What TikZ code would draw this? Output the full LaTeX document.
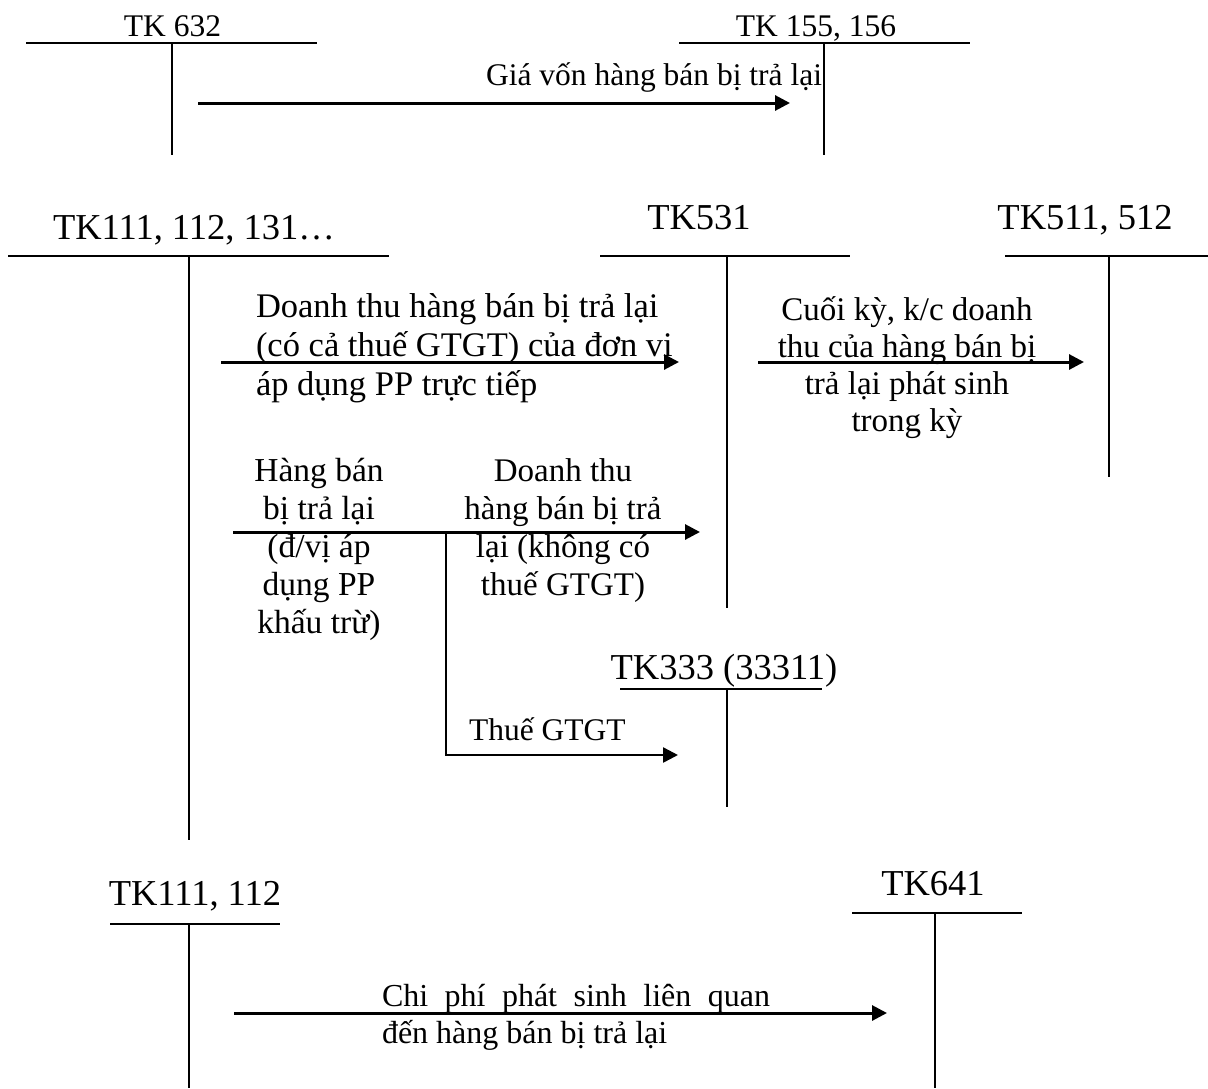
\documentclass[tikz,border=0pt]{standalone}
\usepackage{fontspec}
\setmainfont{Liberation Serif}
\usetikzlibrary{arrows.meta}
\newcommand{\stackL}[2]{\vtop{\baselineskip=#1\lineskiplimit=-\maxdimen\lineskip=0pt\halign{##\hfil\cr #2\crcr}}}
\newcommand{\stackC}[2]{\vtop{\baselineskip=#1\lineskiplimit=-\maxdimen\lineskip=0pt\halign{\hfil##\hfil\cr #2\crcr}}}
\newcommand{\taccount}[6]{%
  \draw[tline] (#2,#4) -- (#3,#4);
  \draw[tline] (#5,#4) -- (#5,#6);
  \coordinate (#1) at (#5,#4);}
\begin{document}
\begin{tikzpicture}[x=1pt,y=-1pt,
  tline/.style={line width=2pt},
  flow/.style={line width=3pt,-{Triangle[length=15pt,width=15pt]}},
  branch/.style={line width=2.5pt,-{Triangle[length=15pt,width=15pt]}},
  lbl/.style={inner sep=0pt,outer sep=0pt},
  topfont/.style={font=\fontsize{31.5}{36}\selectfont},
  bigfont/.style={font=\fontsize{36.5}{42}\selectfont},
  bodyfont/.style={font=\fontsize{33.5}{36}\selectfont}]
\useasboundingbox (0,0) rectangle (1208,1088);

% ---------- top section ----------
\node[lbl,topfont,anchor=base] (n632) at (172.5,36) {TK 632};
\node[lbl,topfont,anchor=base] (n155) at (816,36) {TK 155, 156};
\taccount{t632}{26}{317}{43}{172}{155}
\taccount{t155}{679}{970}{43}{824}{155}
\coordinate (a0s) at (198,103);
\coordinate (a0e) at (790,103);
\draw[flow] (a0s) -- (a0e);
\node[lbl,topfont,anchor=base east] (l0) at (822,85) {Giá vốn hàng bán bị trả lại};

% ---------- middle section ----------
\node[lbl,bigfont,anchor=base] (n111) at (194,239) {TK111, 112, 131…};
\node[lbl,bigfont,anchor=base] (n531) at (699,229) {TK531};
\node[lbl,bigfont,anchor=base] (n511) at (1085,229) {TK511, 512};
\node[lbl,bigfont,anchor=base] (n333) at (724,679) {TK333 (33311)};
\taccount{t111}{8}{389}{256}{189}{840}
\taccount{t531}{600}{850}{256}{727}{608}
\taccount{t511}{1005}{1208}{256}{1109}{477}
\taccount{t333}{620}{822}{689}{727}{807}

\coordinate (a1s) at (221,362);
\coordinate (a1e) at (679,362);
\draw[flow] (a1s) -- (a1e);
\node[lbl,bodyfont,font=\fontsize{34.5}{39}\selectfont,anchor=base west] (l1) at (256,317)
  {\stackL{39pt}{Doanh thu hàng bán bị trả lại\cr (có cả thuế GTGT) của đơn vị\cr áp dụng PP trực tiếp}};

\coordinate (a2s) at (758,362);
\coordinate (a2e) at (1084,362);
\draw[flow] (a2s) -- (a2e);
\node[lbl,bodyfont,font=\fontsize{33}{37}\selectfont,anchor=base] (l2) at (907,320)
  {\stackC{37.3pt}{Cuối kỳ, k/c doanh\cr thu của hàng bán bị\cr trả lại phát sinh\cr trong kỳ}};

\coordinate (a3s) at (233,532);
\coordinate (a3e) at (700,532);
\coordinate (a3b) at (446,532);
\coordinate (a4e) at (678,755);
\draw[flow] (a3s) -- (a3e);
\draw[branch] (a3b) |- (a4e);
\node[lbl,bodyfont,anchor=base] (l3a) at (319,481)
  {\stackC{38pt}{Hàng bán\cr bị trả lại\cr (đ/vị áp\cr dụng PP\cr khấu trừ)}};
\node[lbl,bodyfont,font=\fontsize{33}{38}\selectfont,anchor=base] (l3b) at (563,481)
  {\stackC{38pt}{Doanh thu\cr hàng bán bị trả\cr lại (không có\cr thuế GTGT)}};
\node[lbl,bodyfont,font=\fontsize{31.5}{36}\selectfont,anchor=base west] (l4) at (469,740) {Thuế GTGT};

% ---------- bottom section ----------
\node[lbl,bigfont,anchor=base] (n111b) at (195,905) {TK111, 112};
\node[lbl,bigfont,anchor=base] (n641) at (933,895) {TK641};
\taccount{t111b}{110}{280}{924}{189}{1088}
\taccount{t641}{852}{1022}{913}{935}{1088}
\coordinate (a5s) at (234,1013);
\coordinate (a5e) at (887,1013);
\draw[flow] (a5s) -- (a5e);
\node[lbl,bodyfont,font=\fontsize{32}{37}\selectfont,anchor=base west] (l5) at (382,1006)
  {\stackL{37pt}{\makebox[388pt][s]{Chi phí phát sinh liên quan}\cr đến hàng bán bị trả lại}};
\end{tikzpicture}
\end{document}
